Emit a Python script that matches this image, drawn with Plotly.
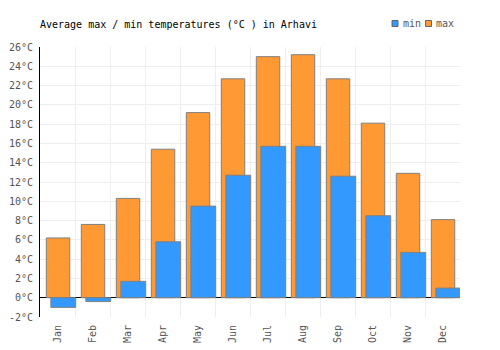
import plotly.graph_objects as go

months = ["Jan", "Feb", "Mar", "Apr", "May", "Jun", "Jul", "Aug", "Sep", "Oct", "Nov", "Dec"]
t_max = [6.2, 7.6, 10.3, 15.4, 19.2, 22.7, 25.0, 25.2, 22.7, 18.1, 12.9, 8.1]
t_min = [-1.0, -0.4, 1.7, 5.8, 9.5, 12.7, 15.7, 15.7, 12.6, 8.5, 4.7, 1.0]
y_ticks = list(range(-2, 27, 2))
y_tick_text = [f"{v}°C" for v in y_ticks]

FONT = "DejaVu Sans Mono"
W, H = 500, 350
ML, MR, MT, MB = 40, 40, 47, 33
x = list(range(len(months)))

fig = go.Figure()
fig.add_trace(go.Bar(
    x=x, y=t_max, name="max",
    width=0.67, offset=-0.32,
    marker=dict(color="#FF9933", line=dict(color="#808080", width=1)),
))
fig.add_trace(go.Bar(
    x=x, y=t_min, name="min",
    width=0.71, offset=-0.19,
    marker=dict(color="#3399FF", line=dict(color="#808080", width=1)),
))

pw, ph = W - ML - MR, H - MT - MB
def px_x(p):
    return (p - ML) / pw
def px_y(p):
    return (H - MB - p) / ph

# custom legend (small squares like the reference)
legend_items = [("min", "#3399FF", 392), ("max", "#FF9933", 425.5)]
shapes = []
annotations = []
for name, col, x0 in legend_items:
    shapes.append(dict(type="rect", xref="paper", yref="paper",
                       x0=px_x(x0), x1=px_x(x0 + 6), y0=px_y(26.5), y1=px_y(20.5),
                       fillcolor=col, line=dict(color="#666666", width=1)))
    annotations.append(dict(text=name, xref="paper", yref="paper",
                            x=px_x(x0 + 8.5), y=px_y(23.5), xanchor="left", yanchor="middle",
                            showarrow=False,
                            font=dict(family=FONT, size=10, color="#555555")))

fig.update_layout(
    width=W, height=H,
    margin=dict(l=ML, r=MR, t=MT, b=MB, autoexpand=False),
    paper_bgcolor="white", plot_bgcolor="white",
    barmode="overlay",
    font=dict(family=FONT, size=10, color="#555555"),
    title=dict(
        text="Average max / min temperatures (°C ) in Arhavi",
        font=dict(family=FONT, size=10, color="#000000"),
        x=0.08, xref="container", xanchor="left",
        y=1 - 24 / 350, yref="container", yanchor="middle",
    ),
    showlegend=False,
    shapes=shapes,
    annotations=annotations,
)

fig.update_xaxes(
    range=[-0.5, len(months) - 0.5],
    tickmode="array", tickvals=x, ticktext=months,
    tickangle=-90, showgrid=False, zeroline=False,
    ticks="outside", ticklen=3, tickcolor="rgba(0,0,0,0)", automargin=False,
    minor=dict(tickmode="array", tickvals=[i - 0.5 for i in range(len(months) + 1)],
               showgrid=True, gridcolor="#eeeeee", gridwidth=1, ticks=""),
    tickfont=dict(family=FONT, size=10, color="#555555"),
    fixedrange=True,
)
fig.update_yaxes(
    range=[-2, 26],
    tickmode="array", tickvals=y_ticks, ticktext=y_tick_text,
    showgrid=True, gridcolor="#eeeeee", gridwidth=1,
    zeroline=True, zerolinecolor="#000000", zerolinewidth=1,
    showline=True, linecolor="#000000", linewidth=1,
    ticks="outside", ticklen=4, tickcolor="rgba(0,0,0,0)", automargin=False,
    tickfont=dict(family=FONT, size=10, color="#555555"),
    fixedrange=True,
)

fig.write_html("out.html")
